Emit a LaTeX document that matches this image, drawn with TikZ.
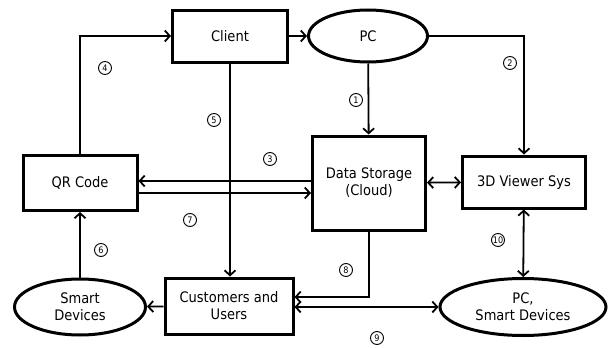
\documentclass[tikz,border=0pt]{standalone}
\usepackage{fontspec}
\setmainfont{DejaVu Sans Condensed}
\usetikzlibrary{shapes.geometric,arrows.meta}

\tikzset{
	box/.style={draw, rectangle, line width=3pt, align=center, inner sep=2pt},
	oval/.style={draw, ellipse, line width=3pt, align=center, inner sep=0pt},
	link/.style={line width=1.8pt},
	num/.style={draw, circle, line width=0.9pt, inner sep=0pt, minimum size=13pt,
		font=\fontsize{9}{9}\selectfont},
	>={Straight Barb[length=5pt,width=11pt]}
}

\begin{document}
\begin{tikzpicture}[x=1pt, y=-1pt, font=\fontsize{14.5}{17}\selectfont]
	\useasboundingbox (0,0) rectangle (614,348);

	\node [box, minimum width=115, minimum height=52] (client) at (230,36) {Client};
	\node [oval, minimum width=119, minimum height=52] (pc) at (368,36) {PC};
	\node [box, minimum width=114, minimum height=55] (qr) at (80,183) {QR Code};
	\node [box, minimum width=113, minimum height=94] (data) at (369,183) {Data Storage\\(Cloud)};
	\node [box, minimum width=123, minimum height=52] (viewer) at (524,182) {3D Viewer Sys};
	\node [box, minimum width=128, minimum height=56] (cust) at (229,306) {Customers and\\Users};
	\node [oval, minimum width=131, minimum height=56] (smart) at (80,307) {Smart\\Devices};
	\node [oval, minimum width=166, minimum height=57] (pcsmart) at (523,307) {PC,\\Smart Devices};

	\draw [link, ->] (qr.north) |- (client.west);
	\draw [link, ->] (client) -- (pc);
	\draw [link, ->] (pc.east) -| (viewer.north);
	\draw [link, ->] (pc) -- (data);
	\draw [link, ->] (client.south) -- (client.south |- cust.north);
	\draw [link, ->] (data.west |- 0,181) -- (qr.east |- 0,181);
	\draw [link, ->] (qr.east |- 0,193) -- (data.west |- 0,193);
	\draw [link, <->] (data) -- (viewer);
	\draw [link, <->] (viewer) -- (pcsmart);
	\draw [link, ->] (smart) -- (qr);
	\draw [link, ->] (cust) -- (smart);
	\draw [link, ->] (data.south) |- (cust.east |- 0,297);
	\draw [link, <->] (cust.east |- 0,307) -- (pcsmart.west |- 0,307);

	\node [num] (n1) at (356,100) {1};
	\node [num] (n2) at (510,63)  {2};
	\node [num] (n3) at (270,159) {3};
	\node [num] (n4) at (105,68)  {4};
	\node [num] (n5) at (214,120) {5};
	\node [num] (n6) at (101,250) {6};
	\node [num] (n7) at (190,220) {7};
	\node [num] (n8) at (346,270) {8};
	\node [num] (n9) at (377,338) {9};
	\node [num] (n10) at (498,240) {10};
\end{tikzpicture}
\end{document}
